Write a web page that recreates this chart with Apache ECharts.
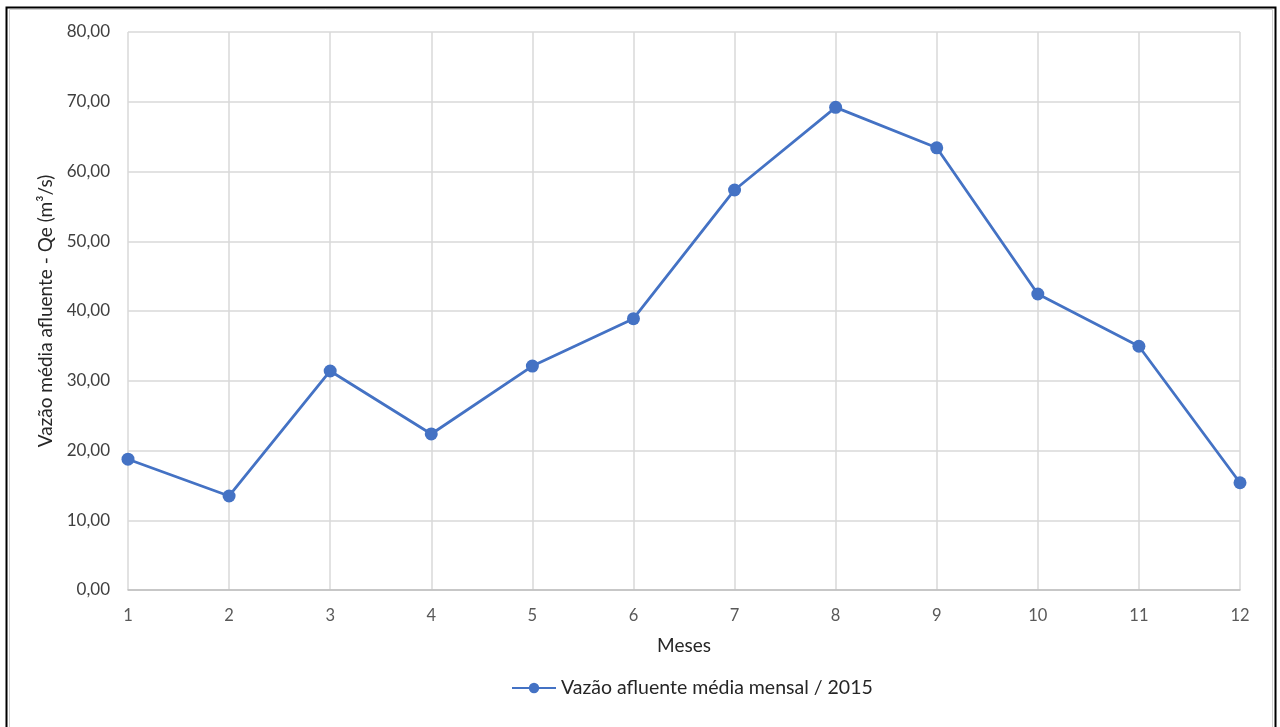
<!DOCTYPE html>
<html>
<head>
<meta charset="utf-8">
<script src="https://cdn.jsdelivr.net/npm/echarts@6/dist/echarts.min.js"></script>
<style>
html,body{margin:0;padding:0;background:#fff;}
#c{width:1280px;height:727px;}
</style>
</head>
<body>
<div id="c"></div>
<script>
const months = ['1','2','3','4','5','6','7','8','9','10','11','12'];
const flow = [18.75, 13.48, 31.4, 22.37, 32.1, 38.9, 57.35, 69.2, 63.4, 42.44, 34.95, 15.38];
const seriesName = 'Vazão afluente média mensal / 2015';
const yAxisTitle = 'Vazão média afluente - Qe (m³/s)';
const xAxisTitle = 'Meses';

const chart = echarts.init(document.getElementById('c'), null, {renderer:'canvas'});
const font = 'Lato, "Liberation Sans", sans-serif';
chart.setOption({
  animation:false,
  textStyle:{fontFamily:font},
  graphic:[
    {type:'rect', shape:{x:6.5, y:7.5, width:1269, height:740}, style:{fill:'none', stroke:'#000', lineWidth:2}},
    {type:'rect', shape:{x:9.5, y:9.5, width:1263, height:740}, style:{fill:'none', stroke:'#d0d0d0', lineWidth:1}}
  ],
  grid:{left:128, right:40, top:32, bottom:137},
  legend:{
    bottom:24, left:506,
    itemWidth:44, itemHeight:13, itemGap:10,
    textStyle:{fontSize:19.5, color:'#262626', fontFamily:font},
    data:[seriesName]
  },
  xAxis:{
    type:'category', data:months, boundaryGap:false,
    name:xAxisTitle, nameLocation:'middle', nameGap:46,
    nameTextStyle:{fontSize:19, color:'#262626', fontFamily:font},
    axisLine:{lineStyle:{color:'#bfbfbf', width:1.5}},
    axisTick:{show:false},
    axisLabel:{color:'#595959', fontSize:16.5, margin:17, fontFamily:font},
    splitLine:{show:true, lineStyle:{color:'#d9d9d9', width:1.5}}
  },
  yAxis:{
    type:'value', min:0, max:80, interval:10,
    name:yAxisTitle, nameLocation:'middle', nameGap:72,
    nameTextStyle:{fontSize:19, color:'#262626', fontFamily:font},
    axisLine:{show:false}, axisTick:{show:false},
    axisLabel:{color:'#404040', fontSize:17, margin:18, fontFamily:font,
      formatter:v=>v.toFixed(2).replace('.',',')},
    splitLine:{show:true, lineStyle:{color:'#d9d9d9', width:1.5}}
  },
  series:[{
    name:seriesName, type:'line', data:flow,
    symbol:'circle', symbolSize:13,
    lineStyle:{color:'#4472C4', width:2.8},
    itemStyle:{color:'#4472C4'}
  }]
});
</script>
</body>
</html>
